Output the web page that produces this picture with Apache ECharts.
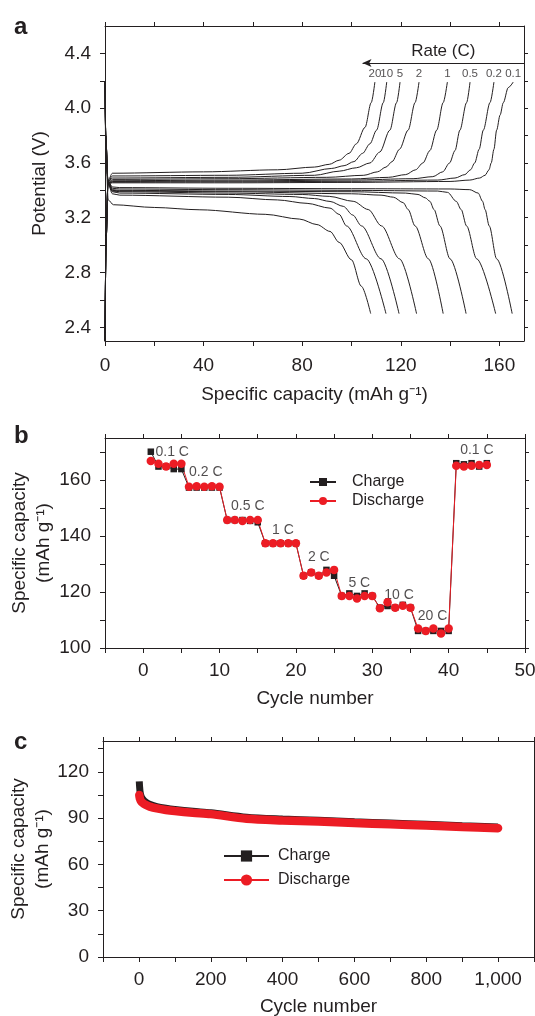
<!DOCTYPE html>
<html>
<head>
<meta charset="utf-8">
<title>Rate and cycling performance</title>
<script src="https://cdn.jsdelivr.net/npm/echarts@6/dist/echarts.min.js"></script>
<style>
    html, body { margin: 0; padding: 0; background: #fff; }
    #chart { width: 535px; height: 1016px; }
</style>
</head>
<body>
<div id="chart"></div>
<script>
// ---- a: charge / discharge profiles, points are [capacity mAh/g, potential V] ----
const rates = ['20', '10', '5', '2', '1', '0.5', '0.2', '0.1'];

const charge20 = [[0,2.3],[0.4,3.0],[1.2,3.47],[3,3.525],[40,3.535],[70,3.55],[85,3.57],[91,3.59],[95,3.62],[99,3.67],[102,3.74],[105.5,3.86],[108,4.04],[109.5,4.19]];
const charge10 = [[0,2.3],[0.4,3.0],[1.2,3.46],[3,3.505],[50,3.51],[80,3.525],[92,3.56],[97,3.58],[101,3.61],[104.5,3.67],[107.5,3.74],[110.2,3.84],[112.9,4.04],[114.3,4.19]];
const charge5 = [[0,2.3],[0.4,3.0],[1.2,3.46],[3,3.49],[50,3.495],[85,3.51],[95,3.54],[102,3.565],[107.5,3.6],[111.5,3.68],[115.6,3.84],[118.3,4.04],[119.7,4.19]];
const charge2 = [[0,2.3],[0.4,3.0],[1.2,3.45],[3,3.48],[50,3.485],[90,3.495],[105,3.51],[110.5,3.535],[114,3.57],[116.5,3.61],[119.5,3.7],[123,3.84],[125.8,4.04],[127.4,4.19]];
const charge1 = [[0,2.3],[0.4,3.0],[1.2,3.45],[3,3.47],[50,3.475],[100,3.483],[115,3.495],[122,3.515],[126,3.55],[129,3.6],[131.8,3.69],[134.6,3.84],[137.2,4.04],[138.9,4.19]];
const charge05 = [[0,2.3],[0.4,3.0],[1.2,3.45],[3,3.465],[50,3.468],[100,3.475],[125,3.485],[133,3.5],[137,3.535],[139.8,3.6],[142,3.69],[144,3.84],[146.7,4.04],[148.1,4.19]];
const charge02 = [[0,2.3],[0.4,3.0],[1.2,3.45],[3,3.46],[50,3.462],[100,3.466],[135,3.475],[142,3.49],[146,3.515],[148.3,3.55],[150,3.6],[151.8,3.7],[153.5,3.84],[156.2,4.04],[157.8,4.19]];
const charge01 = [[0,2.3],[0.4,3.0],[1.2,3.45],[3,3.455],[50,3.455],[100,3.458],[140,3.465],[148,3.475],[152,3.49],[154.2,3.51],[155.8,3.55],[156.7,3.6],[157.8,3.7],[158.9,3.84],[160.3,3.95],[161.6,4.04],[163.6,4.15],[165.6,4.19]];

const discharge20 = [[0,4.19],[0.3,3.7],[1.3,3.33],[3.4,3.295],[20,3.275],[38.5,3.258],[65,3.225],[79,3.19],[86,3.15],[91.3,3.1],[95,3.02],[100,2.893],[104,2.7],[107.8,2.5]];
const discharge10 = [[0,4.19],[0.3,3.8],[1.2,3.45],[3,3.375],[6,3.365],[50,3.35],[70,3.33],[82,3.305],[91.3,3.27],[95,3.225],[98,3.14],[106,2.9],[114,2.5]];
const discharge5 = [[0,4.19],[0.3,3.8],[1.2,3.46],[3,3.39],[6,3.38],[50,3.37],[75,3.355],[85,3.34],[91.3,3.319],[96.7,3.283],[100.5,3.22],[104.1,3.14],[112,2.9],[119.3,2.5]];
const discharge2 = [[0,4.19],[0.3,3.8],[1.2,3.46],[3,3.395],[6,3.39],[50,3.38],[80,3.37],[91,3.356],[100.7,3.32],[106.8,3.26],[112.2,3.14],[119.5,2.9],[126.4,2.5]];
const discharge1 = [[0,4.19],[0.3,3.8],[1.2,3.46],[3,3.4],[6,3.395],[50,3.39],[100,3.375],[112,3.365],[117,3.35],[121,3.31],[123,3.26],[125.8,3.14],[131.2,2.9],[137.2,2.5]];
const discharge05 = [[0,4.19],[0.3,3.8],[1.2,3.46],[3,3.405],[6,3.4],[50,3.395],[100,3.39],[122,3.38],[127,3.37],[130,3.345],[131.8,3.32],[133.5,3.26],[135.9,3.14],[140,2.9],[146.5,2.5]];
const discharge02 = [[0,4.19],[0.3,3.8],[1.2,3.47],[3,3.415],[6,3.41],[50,3.405],[100,3.4],[135,3.395],[139,3.385],[142.5,3.32],[144.5,3.26],[146.7,3.14],[150.8,2.9],[158.5,2.5]];
const discharge01 = [[0,4.19],[0.3,3.8],[1.2,3.47],[3,3.425],[6,3.42],[50,3.415],[100,3.412],[140,3.41],[148,3.405],[151.4,3.38],[153.2,3.32],[154.2,3.26],[155.9,3.14],[158.9,2.9],[165.2,2.5]];

const chargeCurves = [charge20, charge10, charge5, charge2, charge1, charge05, charge02, charge01];
const dischargeCurves = [discharge20, discharge10, discharge5, discharge2, discharge1, discharge05, discharge02, discharge01];

const capacityTicks = [0, 20, 40, 60, 80, 100, 120, 140, 160];
const capacityLabels = [0, 40, 80, 120, 160];
const potentialTicks = [2.4, 2.6, 2.8, 3.0, 3.2, 3.4, 3.6, 3.8, 4.0, 4.2, 4.4];
const potentialLabels = [2.4, 2.8, 3.2, 3.6, 4.0, 4.4];
const rateArrow = {from: 104.5, to: 170, potential: 4.33};

// ---- b: rate capability ----
const cyclesB = [1,2,3,4,5,6,7,8,9,10,11,12,13,14,15,16,17,18,19,20,21,22,23,24,25,26,27,28,29,30,31,32,33,34,35,36,37,38,39,40,41,42,43,44,45];
const chargeB = [170.1,164.8,164.8,163.9,163.9, 157.3,157.3,157.3,157.3,157.3, 145.7,145.7,145.7,145.4,144.9, 137.4,137.4,137.4,137.4,137.4, 125.8,127.0,125.8,127.9,125.8, 118.6,119.5,118.6,119.5,118.6, 114.4,115.0,114.4,115.4,114.4, 106.1,106.1,106.1,106.1,106.1, 166.0,165.6,166.0,164.8,166.0];
const dischargeB = [166.8,165.8,164.8,165.8,165.8, 157.6,157.8,157.6,157.8,157.6, 145.7,145.7,145.4,145.7,145.7, 137.4,137.4,137.4,137.4,137.4, 125.8,127.0,125.8,127.0,127.9, 118.6,118.6,117.7,118.6,118.6, 114.2,116.3,114.4,115.1,114.4, 107.0,106.1,107.0,105.2,107.0, 165.1,164.8,165.1,165.4,165.4];
const rateNamesB = ['0.1 C', '0.2 C', '0.5 C', '1 C', '2 C', '5 C', '10 C', '20 C', '0.1 C'];
const rateNameCycle = [3.8, 8.2, 13.7, 18.3, 23.0, 28.3, 33.5, 37.9, 43.7];
const rateNameCapacity = [169.8, 162.7, 150.5, 142.1, 132.6, 123.1, 118.7, 111.2, 170.7];
const cycleTicksB = [-5, 0, 5, 10, 15, 20, 25, 30, 35, 40, 45, 50];
const cycleLabelsB = [0, 10, 20, 30, 40, 50];
const capacityTicksB = [100, 110, 120, 130, 140, 150, 160, 170];
const capacityLabelsB = [100, 120, 140, 160];

// ---- c: long cycling ----
const cyclesC = [1, 2, 3, 5, 10, 20, 30, 50, 75, 100, 150, 200, 300, 400, 500, 600, 700, 800, 900, 1000];
const chargeC = [113.8, 110, 107.5, 105, 102.5, 100.2, 99, 97.5, 96.4, 95.6, 94.4, 93.5, 90.6, 89.4, 88.6, 87.6, 86.8, 86.0, 85.1, 84.3];
const dischargeC = [105, 103.5, 102.5, 101.3, 100, 98.5, 97.5, 96.3, 95.3, 94.6, 93.5, 92.6, 89.6, 88.5, 87.8, 86.8, 86.0, 85.2, 84.3, 83.5];
const cycleTicksC = [-100, 0, 100, 200, 300, 400, 500, 600, 700, 800, 900, 1000, 1100];
const cycleLabelsC = [0, 200, 400, 600, 800, 1000];
const capacityTicksC = [0, 15, 30, 45, 60, 75, 90, 105, 120, 135];
const capacityLabelsC = [0, 30, 60, 90, 120];

const ink = '#231f20';
const red = '#ec1c24';
const font = 'Liberation Sans, Arial, Helvetica, sans-serif';
const capName = 'Specific capacity\n(mAh g\u207B\u00B9)';

function zip(xs, ys) {
    return xs.map((x, i) => [x, ys[i]]);
}

// one side of a plot frame; labels === null gives a plain mirrored side
function frameAxis(gridIndex, position, min, max, ticks, labels, fmt, name, nameGap, margin) {
    const withLabels = labels !== null;
    return {
        type: 'value',
        gridIndex: gridIndex,
        position: position,
        min: min,
        max: max,
        splitLine: {show: false},
        axisLine: {show: true, onZero: false, lineStyle: {color: ink, width: 1}},
        axisTick: {show: true, inside: false, length: withLabels ? 5 : 4, customValues: ticks, lineStyle: {color: ink, width: 1}},
        axisLabel: withLabels
            ? {show: true, customValues: labels, formatter: fmt, margin: margin, color: ink, fontSize: 19, fontFamily: font}
            : {show: false},
        name: name || '',
        nameLocation: 'middle',
        nameGap: nameGap || 0,
        nameMoveOverlap: false,
        nameTextStyle: {color: ink, fontSize: 19, fontFamily: font, lineHeight: 24}
    };
}

let myChart = echarts.init(document.getElementById('chart'));

const profileSeries = [];
chargeCurves.forEach((curve, i) => {
    profileSeries.push({
        name: 'charge ' + rates[i],
        type: 'line',
        xAxisIndex: 0,
        yAxisIndex: 0,
        data: curve,
        symbol: 'none',
        smooth: 0.3,
        smoothMonotone: 'x',
        silent: true,
        lineStyle: {color: ink, width: 1},
        markLine: i === 0 ? {
            silent: true,
            symbol: ['arrow', 'none'],
            symbolSize: [6, 9],
            lineStyle: {color: ink, width: 1, type: 'solid'},
            label: {show: true, position: 'insideMiddleTop', distance: 3, formatter: 'Rate (C)', color: ink, fontSize: 17, fontFamily: font},
            data: [[{coord: [rateArrow.from, rateArrow.potential]}, {coord: [rateArrow.to, rateArrow.potential]}]]
        } : undefined
    });
});
dischargeCurves.forEach((curve, i) => {
    profileSeries.push({
        name: 'discharge ' + rates[i],
        type: 'line',
        xAxisIndex: 0,
        yAxisIndex: 0,
        data: curve,
        symbol: 'none',
        smooth: 0.3,
        smoothMonotone: 'x',
        silent: true,
        lineStyle: {color: ink, width: 1}
    });
});
// rate numbers sit above the end of each charge curve
profileSeries.push({
    name: 'rate numbers',
    type: 'scatter',
    xAxisIndex: 0,
    yAxisIndex: 0,
    data: chargeCurves.map(c => c[c.length - 1]),
    symbolSize: 1,
    itemStyle: {color: 'transparent'},
    silent: true,
    label: {show: true, position: 'top', distance: 2, formatter: p => rates[p.dataIndex], color: ink, fontSize: 11.5, fontFamily: font}
});

myChart.setOption({
    animation: false,
    backgroundColor: '#fff',
    textStyle: {fontFamily: font, color: ink},
    title: [
        {text: 'a', left: 9, top: 10, textStyle: {fontSize: 24, fontWeight: 'bold', color: ink, fontFamily: font}},
        {text: 'b', left: 9, top: 419, textStyle: {fontSize: 24, fontWeight: 'bold', color: ink, fontFamily: font}},
        {text: 'c', left: 9, top: 725, textStyle: {fontSize: 24, fontWeight: 'bold', color: ink, fontFamily: font}}
    ],
    legend: [
        {
            left: 304, top: 469, orient: 'vertical', selectedMode: false,
            itemWidth: 26, itemHeight: 10, itemGap: 3,
            data: ['Charge', 'Discharge'],
            textStyle: {color: ink, fontSize: 16, fontFamily: font, padding: [0, 0, 0, 11]}
        },
        {
            left: 218, top: 843, orient: 'vertical', selectedMode: false,
            itemWidth: 45, itemHeight: 14, itemGap: 8,
            data: ['Charge', 'Discharge'],
            textStyle: {color: ink, fontSize: 16, fontFamily: font, padding: [0, 0, 0, 4]}
        }
    ],
    grid: [
        {left: 105, top: 26, width: 419, height: 315, outerBoundsMode: 'none'},
        {left: 105, top: 438, width: 420, height: 210, outerBoundsMode: 'none'},
        {left: 103, top: 741, width: 431, height: 216, outerBoundsMode: 'none'}
    ],
    xAxis: [
        frameAxis(0, 'bottom', 0, 170, capacityTicks, capacityLabels, v => String(v), 'Specific capacity (mAh g\u207B\u00B9)', 42, 15),
        frameAxis(0, 'top', 0, 170, capacityTicks, null),
        frameAxis(1, 'bottom', -5, 50, cycleTicksB, cycleLabelsB, v => String(v), 'Cycle number', 39, 13),
        frameAxis(1, 'top', -5, 50, cycleTicksB, null),
        frameAxis(2, 'bottom', -100, 1100, cycleTicksC, cycleLabelsC, v => v.toLocaleString('en-US'), 'Cycle number', 38, 13),
        frameAxis(2, 'top', -100, 1100, cycleTicksC, null)
    ],
    yAxis: [
        frameAxis(0, 'left', 2.3, 4.6, potentialTicks, potentialLabels, v => v.toFixed(1), 'Potential (V)', 53, 14),
        frameAxis(0, 'right', 2.3, 4.6, potentialTicks, null),
        frameAxis(1, 'left', 100, 175, capacityTicksB, capacityLabelsB, v => String(v), capName, 49, 14),
        frameAxis(1, 'right', 100, 175, capacityTicksB, null),
        frameAxis(2, 'left', 0, 140, capacityTicksC, capacityLabelsC, v => String(v), capName, 48, 14),
        frameAxis(2, 'right', 0, 140, capacityTicksC, null)
    ],
    series: profileSeries.concat([
        {
            name: 'Charge',
            type: 'line',
            xAxisIndex: 2,
            yAxisIndex: 2,
            data: zip(cyclesB, chargeB),
            symbol: 'rect',
            symbolSize: 6.5,
            itemStyle: {color: ink},
            lineStyle: {color: ink, width: 1}
        },
        {
            name: 'Discharge',
            type: 'line',
            xAxisIndex: 2,
            yAxisIndex: 2,
            data: zip(cyclesB, dischargeB),
            symbol: 'circle',
            symbolSize: 8.5,
            itemStyle: {color: red},
            lineStyle: {color: red, width: 1}
        },
        {
            name: 'rate names',
            type: 'scatter',
            xAxisIndex: 2,
            yAxisIndex: 2,
            data: zip(rateNameCycle, rateNameCapacity),
            symbolSize: 1,
            itemStyle: {color: 'transparent'},
            silent: true,
            label: {
                show: true,
                position: 'inside',
                formatter: p => rateNamesB[p.dataIndex],
                color: ink,
                textBorderWidth: 0,
                fontSize: 14,
                fontFamily: font
            }
        },
        {
            name: 'Charge',
            type: 'line',
            xAxisIndex: 4,
            yAxisIndex: 4,
            data: zip(cyclesC, chargeC),
            symbol: 'rect',
            showSymbol: false,
            smooth: 0.3,
            itemStyle: {color: ink},
            lineStyle: {color: ink, width: 7, cap: 'butt'}
        },
        {
            name: 'Discharge',
            type: 'line',
            xAxisIndex: 4,
            yAxisIndex: 4,
            data: zip(cyclesC, dischargeC),
            symbol: 'circle',
            showSymbol: false,
            smooth: 0.3,
            itemStyle: {color: red},
            lineStyle: {color: red, width: 8.5, cap: 'round'}
        }
    ])
});
</script>
</body>
</html>
